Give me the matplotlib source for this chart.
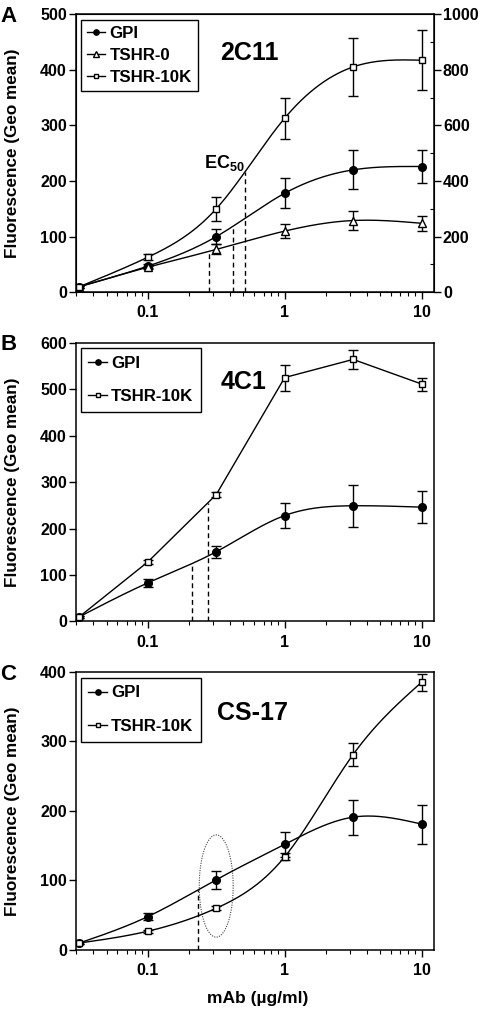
import numpy as np
import matplotlib
matplotlib.use('Agg')
import matplotlib.pyplot as plt
from matplotlib.ticker import FixedLocator, NullFormatter, LogLocator

plt.rcParams['font.family'] = ['Liberation Sans', 'DejaVu Sans']
plt.rcParams['font.weight'] = 'bold'
plt.rcParams['mathtext.fontset'] = 'custom'
plt.rcParams['mathtext.rm'] = 'Liberation Sans:bold'
plt.rcParams['mathtext.it'] = 'Liberation Sans:bold'
plt.rcParams['mathtext.bf'] = 'Liberation Sans:bold'

# mAb concentrations (ug/ml)
dose = [0.0316, 0.1, 0.316, 1.0, 3.16, 10.0]

# Panel A - 2C11
a_gpi = [10, 47, 100, 178, 220, 226]
a_gpi_err = [2, 3, 13, 27, 35, 30]
a_t0 = [10, 45, 77, 110, 129, 124]
a_t0_err = [2, 3, 9, 13, 17, 13]
a_t10 = [10, 63, 150, 313, 405, 417]
a_t10_err = [2, 5, 21, 37, 52, 54]
a_ec50 = [0.281, 0.42, 0.513]   # TSHR-0, GPI, TSHR-10K

# Panel B - 4C1
b_gpi = [10, 83, 150, 228, 249, 246]
b_gpi_err = [2, 8, 13, 26, 45, 35]
b_t10 = [10, 128, 273, 525, 564, 511]
b_t10_err = [2, 4, 6, 28, 20, 14]
b_ec50 = [0.21, 0.275]   # GPI, TSHR-10K

# Panel C - CS-17
c_gpi = [10, 48, 101, 152, 191, 181]
c_gpi_err = [2, 5, 13, 18, 25, 28]
c_t10 = [10, 27, 60, 134, 281, 385]
c_t10_err = [2, 2, 3, 5, 16, 12]
c_ec50 = [0.234]   # GPI


def spline(x, y, xn):
    # natural cubic spline through the points in log10(x)
    u = np.log10(x)
    y = np.asarray(y, float)
    un = np.log10(xn)
    n = len(u)
    h = np.diff(u)
    A = np.zeros((n, n))
    r = np.zeros(n)
    A[0, 0] = A[-1, -1] = 1
    for i in range(1, n - 1):
        A[i, i - 1] = h[i - 1]
        A[i, i] = 2 * (h[i - 1] + h[i])
        A[i, i + 1] = h[i]
        r[i] = 3 * ((y[i + 1] - y[i]) / h[i] - (y[i] - y[i - 1]) / h[i - 1])
    c = np.linalg.solve(A, r)
    b = (y[1:] - y[:-1]) / h - h * (2 * c[:-1] + c[1:]) / 3
    d = (c[1:] - c[:-1]) / (3 * h)
    idx = np.clip(np.searchsorted(u, un) - 1, 0, n - 2)
    dx = un - u[idx]
    return y[idx] + b[idx] * dx + c[idx] * dx ** 2 + d[idx] * dx ** 3


def straight(x, y, xn):
    return np.interp(np.log10(xn), np.log10(x), y)


xs = np.logspace(np.log10(dose[0]), np.log10(dose[-1]), 300)

styles = {
    'GPI': dict(marker='o', mfc='black', mec='black', ms=5.5),
    'TSHR-0': dict(marker='^', mfc='white', mec='black', ms=5.5),
    'TSHR-10K': dict(marker='s', mfc='white', mec='black', ms=5),
}


def draw(ax, y, err, name, curve):
    ax.plot(xs, curve(dose, y, xs), color='black', lw=1, zorder=2)
    ax.errorbar(dose, y, yerr=err, fmt='none', ecolor='black', elinewidth=1,
                capsize=3.8, capthick=1, zorder=3)
    ax.plot(dose, y, ls='none', zorder=4, mew=1, **styles[name])
    ax.plot([], [], color='black', lw=1, label=name, mew=1, **styles[name])


def ec50(ax, xe, y, curve):
    for xv in xe:
        top = float(curve(dose, y, np.array([xv]))[0])
        ax.plot([xv, xv], [0, top], color='black', lw=1, ls=(0, (3.5, 2.5)), zorder=1)


def style_axes(ax, ymax, ystep):
    ax.set_xscale('log')
    ax.set_xlim(0.0299, 12.3)
    ax.set_ylim(0, ymax)
    ax.set_yticks(np.arange(0, ymax + 1, ystep))
    ax.xaxis.set_major_locator(FixedLocator([0.1, 1, 10]))
    ax.set_xticklabels(['0.1', '1', '10'])
    ax.xaxis.set_minor_locator(LogLocator(base=10, subs=np.arange(2, 10)))
    ax.xaxis.set_minor_formatter(NullFormatter())
    ax.tick_params(axis='both', which='major', labelsize=11.5, length=5, width=1, pad=1.5)
    ax.tick_params(axis='x', which='major', pad=4.5)
    ax.tick_params(axis='x', which='minor', length=3, width=0.8)
    for s in ax.spines.values():
        s.set_linewidth(1.1)
    ax.set_ylabel('Fluorescence (Geo mean)', fontsize=12.3, fontweight='bold')
    ax.yaxis.set_label_coords(-0.155, 0.5)


def legend(ax, top, spacing, pad):
    leg = ax.legend(loc='upper left', bbox_to_anchor=(0.013, top), borderaxespad=0,
                    fontsize=12.2, handlelength=1.1, handletextpad=0.25,
                    labelspacing=spacing, markerscale=0.7,
                    fancybox=False, framealpha=1, borderpad=pad, frameon=True)
    leg.get_frame().set_edgecolor('black')
    leg.get_frame().set_linewidth(1)


fig = plt.figure(figsize=(4.8, 10.1), dpi=100)
axA = fig.add_axes([0.1583, 0.7106, 0.7458, 0.2755])
axB = fig.add_axes([0.1583, 0.3847, 0.7458, 0.2760])
axC = fig.add_axes([0.1583, 0.0594, 0.7458, 0.2755])

# Panel A
style_axes(axA, 500, 100)
draw(axA, a_gpi, a_gpi_err, 'GPI', spline)
draw(axA, a_t0, a_t0_err, 'TSHR-0', spline)
draw(axA, a_t10, a_t10_err, 'TSHR-10K', spline)
ec50(axA, [a_ec50[0]], a_t0, spline)
ec50(axA, [a_ec50[1]], a_gpi, spline)
ec50(axA, [a_ec50[2]], a_t10, spline)
axA.text(0.36, 232, 'EC$_{50}$', ha='center', va='center', fontsize=13, fontweight='bold')
axA.text(0.55, 430, '2C11', ha='center', va='center', fontsize=18, fontweight='bold')
legend(axA, 0.978, 0.4, 0.35)
axA2 = axA.twinx()
axA2.set_ylim(0, 1000)
axA2.set_yticks(np.arange(0, 1001, 200))
axA2.yaxis.set_minor_locator(FixedLocator(np.arange(100, 1000, 200)))
axA2.tick_params(axis='y', which='major', labelsize=11.5, length=5, width=1, pad=1.5)
axA2.tick_params(axis='y', which='minor', direction='in', length=3, width=0.8)

# Panel B
style_axes(axB, 600, 100)
draw(axB, b_gpi, b_gpi_err, 'GPI', spline)
draw(axB, b_t10, b_t10_err, 'TSHR-10K', straight)
ec50(axB, [b_ec50[0]], b_gpi, spline)
ec50(axB, [b_ec50[1]], b_t10, straight)
axB.text(0.5, 516, '4C1', ha='center', va='center', fontsize=18, fontweight='bold')
legend(axB, 0.981, 1.1, 0.45)

# Panel C
style_axes(axC, 400, 100)
draw(axC, c_gpi, c_gpi_err, 'GPI', spline)
draw(axC, c_t10, c_t10_err, 'TSHR-10K', spline)
ec50(axC, c_ec50, c_gpi, spline)
# dotted ellipse around the 0.316 ug/ml points
ell_x, ell_y, ell_w, ell_h = 0.316, 92, 0.124, 73.5
t = np.linspace(0, 2 * np.pi, 200)
axC.plot(10 ** (np.log10(ell_x) + ell_w * np.cos(t)), ell_y + ell_h * np.sin(t),
         color='#444444', lw=0.8, ls=(0, (1, 1.2)), zorder=1)
axC.text(0.58, 341, 'CS-17', ha='center', va='center', fontsize=18, fontweight='bold')
legend(axC, 0.978, 1.1, 0.45)

fig.text(258 / 480, 1 - 998 / 1010, 'mAb (\u00b5g/ml)', ha='center', va='center',
         fontsize=12.5, fontweight='bold')

for lab, yp in zip(['A', 'B', 'C'], [16, 344, 675]):
    fig.text(8.5 / 480, 1 - yp / 1010, lab, ha='center', va='center', fontsize=16,
             fontweight='bold')

fig.savefig('out.png', dpi=100)
